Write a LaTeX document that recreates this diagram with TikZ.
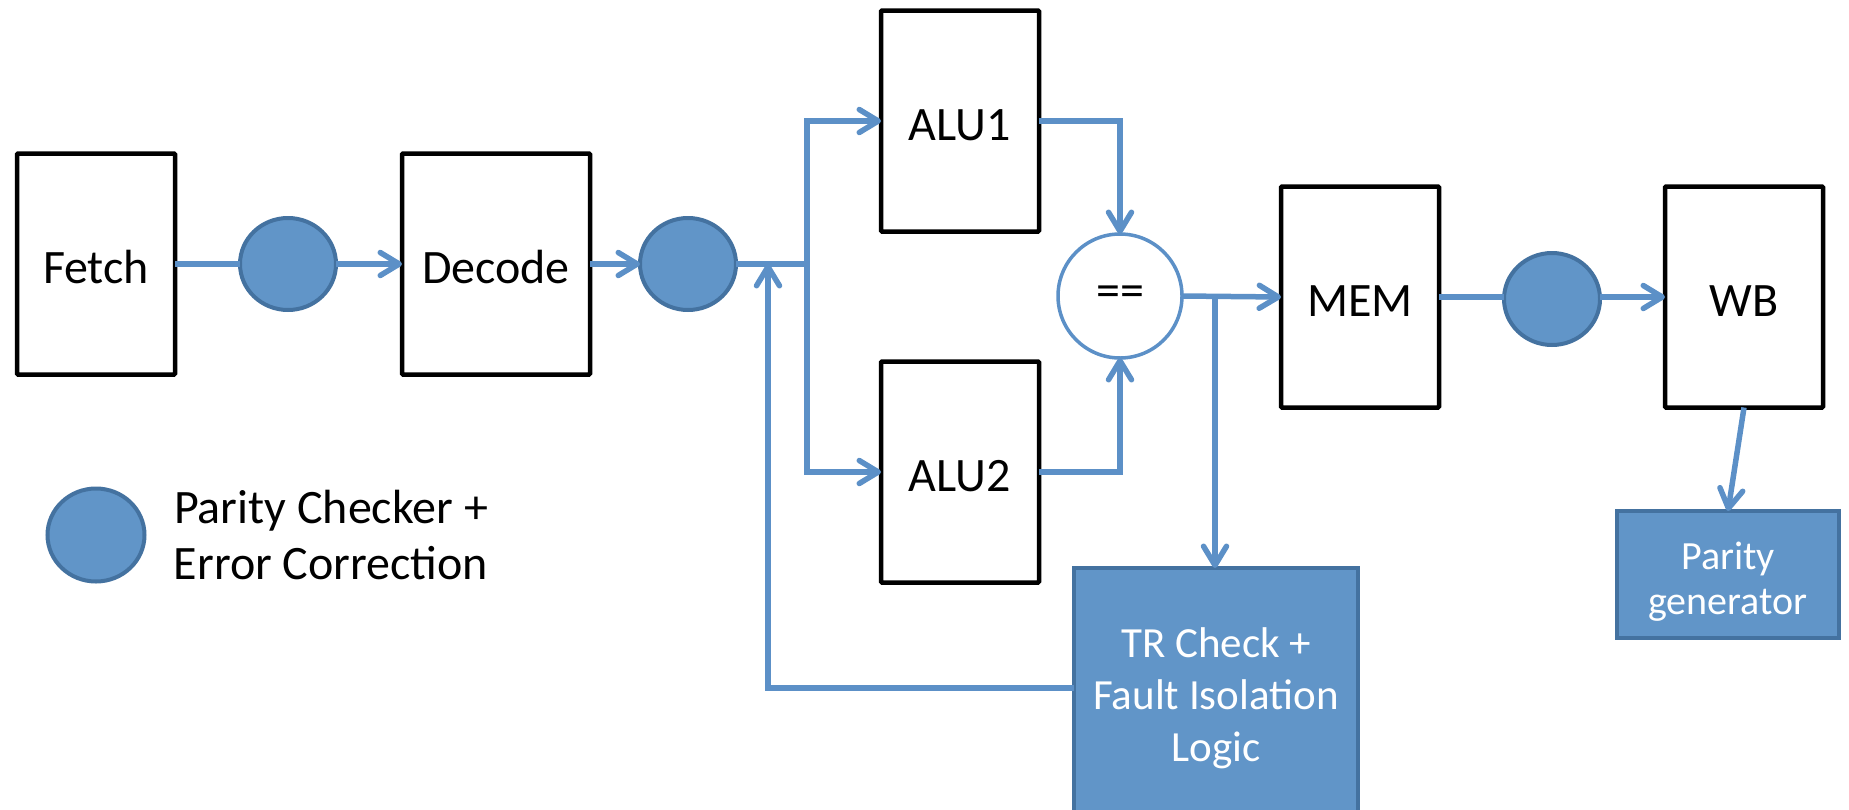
\documentclass[tikz,border=0pt]{standalone}
\usepackage{fontspec}
\setmainfont{Carlito}
\usetikzlibrary{shapes.geometric,arrows.meta}

\definecolor{wirec}{RGB}{92,144,199}
\definecolor{pcfill}{RGB}{97,149,200}
\definecolor{pcedge}{RGB}{68,114,160}

\tikzset{
  stage/.style={rectangle, draw=black, line width=4.5pt, fill=white,
    minimum width=158pt, minimum height=221pt, inner sep=0pt, outer sep=0pt,
    rounded corners=1pt, font=\fontsize{48}{58}\selectfont,
    text height=39pt, text depth=0pt},
  pchk/.style={ellipse, draw=pcedge, fill=pcfill, line width=4pt,
    minimum width=96pt, minimum height=92pt, inner sep=0pt, outer sep=0pt},
  logicbox/.style={rectangle, draw=pcedge, fill=pcfill, line width=4pt,
    inner sep=0pt, outer sep=0pt},
  boxtext/.style={text=white, align=center, inner sep=0pt},
  wire/.style={draw=wirec, line width=5.5pt},
  flow/.style={wire, -{Straight Barb[length=19pt,width=23pt,round]}},
}

\begin{document}
\begin{tikzpicture}[x=1pt,y=-1pt]
\useasboundingbox (0,0) rectangle (1849,809);

% pipeline stages
\node[stage] (fetch)  at (96,264)   {Fetch};
\node[stage, minimum width=188pt] (decode) at (496,264) {Decode};
\node[stage] (alu1)   at (960,121)  {ALU1};
\node[stage] (alu2)   at (960,472)  {ALU2};
\node[stage] (mem)    at (1360,297) {MEM};
\node[stage] (wb)     at (1744,297) {WB};

% parity checkers
\node[pchk] (pc1) at (288,264) {};
\node[pchk] (pc2) at (688,264) {};
\node[pchk] (pc3) at (1552,299) {};

% comparator
\node[circle, draw=wirec, fill=white, line width=3.5pt, minimum size=124pt,
      inner sep=0pt, outer sep=0pt, font=\fontsize{48}{58}\selectfont] (eq) at (1120,296) {==};

% checking logic
\node[logicbox, minimum width=284pt, minimum height=252pt,
      label={[boxtext, font=\fontsize{43}{52}\selectfont, yshift=-4pt]center:{TR Check +\\Fault Isolation\\Logic}}]
      (tr) at (1216,694) {};
\node[logicbox, minimum width=222pt, minimum height=127pt,
      label={[boxtext, font=\fontsize{40}{45}\selectfont, yshift=-7pt]center:{Parity\\generator}}]
      (pgen) at (1728,574.5) {};

% key
\node[pchk, minimum width=97pt, minimum height=93pt] (key) at (96,535) {};
\node[align=center, inner sep=0pt, font=\fontsize{48}{56}\selectfont] (keytext) at (331,535)
      {Parity Checker +\\Error Correction};

% junctions
\coordinate (split) at (807,264);
\coordinate (tap) at (1215,297);
\coordinate (back) at (768,264);

% connectors
\draw[wire] (fetch.east) -- (pc1.west);
\draw[flow] (pc1.east) -- (decode.west);
\draw[flow] (decode.east) -- (pc2.west);
\draw[wire] (pc2.east) -- (split);
\draw[flow] (split) |- (alu1.west);
\draw[flow] (split) |- (alu2.west);
\draw[flow] (alu1.east) -| (eq.north);
\draw[flow] (alu2.east) -| (eq.south);
\draw[flow] (eq.east) -- (mem.west);
\draw[flow] (tap) -- (tap |- tr.north);
\draw[flow] ([yshift=6pt]tr.west) -| (back);
\draw[wire] (mem.east) -- (mem.east -| pc3.west);
\draw[flow] (pc3.east |- wb.west) -- (wb.west);
\draw[flow] (wb.south) -- (pgen.north);
\end{tikzpicture}
\end{document}
